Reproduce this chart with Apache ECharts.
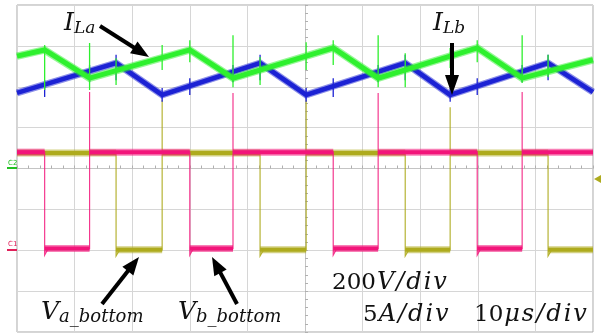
<!DOCTYPE html>
<html>
<head>
<meta charset="utf-8">
<script src="https://cdn.jsdelivr.net/npm/echarts@6/dist/echarts.min.js"></script>
<style>
html,body{margin:0;padding:0;background:#fff;}
#chart{width:605px;height:336px;}
</style>
</head>
<body>
<div id="chart"></div>
<script>
// ---- data (time in µs relative to trigger, amplitude in screen divisions) ----
// I_La (green) triangle corners
const iLaTime  = [-50, -45.2, -37.4, -20.0, -12.5, 4.9, 12.7, 29.9, 37.7, 50];
const iLaValue = [2.75, 2.90, 2.21, 2.90, 2.21, 2.95, 2.21, 2.95, 2.21, 2.66];
// I_Lb (blue) triangle corners
const iLbTime  = [-50, -32.8, -24.8, -7.8, 0.2, 17.4, 25.2, 42.2, 50];
const iLbValue = [1.85, 2.58, 1.80, 2.58, 1.80, 2.58, 1.80, 2.58, 1.87];
// V_b_bottom (pink) edges and levels
const vbFall = [-45.2, -20.0, 4.9, 29.9];
const vbRise = [-37.4, -12.5, 12.7, 37.7];
const vbRiseSpike = [1.87, 1.85, 1.85, 1.87];
const vbHigh = 0.40, vbLow = -1.96, vbUnder = -2.12;
// V_a_bottom (olive) edges and levels
const vaFall = [-32.8, -7.8, 17.4, 42.2];
const vaRise = [-24.8, 0.2, 25.2];
const vaRiseSpike = [1.67, 1.67, 1.50];
const vaHigh = 0.38, vaLow = -1.99, vaUnder = -2.14;
// switching spikes on the current traces
const spikeTime   = [-45.2,-37.4,-32.8,-24.8,-20.0,-12.5,-7.8,0.2,4.9,12.7,17.4,25.2,29.9,37.7,42.2];
const gSpikeTop   = [3.02,3.07,2.70,3.02,3.14,3.26,2.73,3.09,3.14,3.26,2.82,2.95,3.14,3.26,2.78];
const gSpikeBot   = [1.92,1.92,2.04,2.41,2.60,1.99,2.04,2.41,2.53,1.99,1.99,2.46,2.60,2.09,2.24];
const bSpikeTop   = [2.16,2.53,2.78,1.97,2.21,2.53,2.78,1.97,2.21,2.53,2.78,1.97,2.21,2.53,2.78];
const bSpikeBot   = [1.75,2.11,2.16,1.63,1.80,2.11,2.16,1.63,1.75,2.11,2.16,1.63,1.80,2.11,2.16];

const GREEN = '#2ef02e', BLUE = '#1c22d4', PINK = '#f2157a', OLIVE = '#aeab1e';

function zip(a, b) { return a.map((v, i) => [v, b[i]]); }

function squareWave(high, low, under, falls, rises, spikes) {
  const pts = [[-50, high]];
  const bands = [];
  let cur = -50;
  for (let i = 0; i < falls.length; i++) {
    const f = falls[i];
    pts.push([f, high], [f, under], [f + 0.6, low]);
    bands.push([cur, high, f, high]);
    if (i < rises.length) {
      const r = rises[i];
      pts.push([r, low], [r, spikes[i]], [r, high]);
      bands.push([f, low, r, low]);
      cur = r;
    } else {
      pts.push([50, low]);
      bands.push([f, low, 50, low]);
      cur = null;
    }
  }
  if (cur !== null) { pts.push([50, high]); bands.push([cur, high, 50, high]); }
  return { pts, bands };
}

function segSeries(segs, color, width, z, opacity) {
  return {
    type: 'custom', z: z, silent: true, clip: true,
    data: segs,
    encode: { x: [0, 2], y: [1, 3] },
    renderItem: function (params, api) {
      const p1 = api.coord([api.value(0), api.value(1)]);
      const p2 = api.coord([api.value(2), api.value(3)]);
      return { type: 'line', shape: { x1: p1[0], y1: p1[1], x2: p2[0], y2: p2[1] },
        style: { stroke: color, lineWidth: width, opacity: opacity == null ? 1 : opacity, lineCap: 'butt' } };
    }
  };
}

const vb = squareWave(vbHigh, vbLow, vbUnder, vbFall, vbRise, vbRiseSpike);
const va = squareWave(vaHigh, vaLow, vaUnder, vaFall, vaRise, vaRiseSpike);
const gSpikes = spikeTime.map((t, i) => [t, gSpikeTop[i], t, gSpikeBot[i]]);
const bSpikes = spikeTime.map((t, i) => [t, bSpikeTop[i], t, bSpikeBot[i]]);

function lineSeries(pts, color, width, z, opacity) {
  return { type: 'line', data: pts, symbol: 'none', z: z, silent: true,
    lineStyle: { color: color, width: width, opacity: opacity == null ? 1 : opacity, join: 'miter' } };
}

const series = [
  lineSeries(va.pts, OLIVE, 1.2, 2, 0.9),
  segSeries(va.bands, OLIVE, 7, 2, 0.55),
  segSeries(va.bands, OLIVE, 4, 2),
  lineSeries(vb.pts, PINK, 1.2, 3, 0.85),
  segSeries(vb.bands, PINK, 7, 3, 0.55),
  segSeries(vb.bands, PINK, 4, 3),
  lineSeries(zip(iLbTime, iLbValue), BLUE, 7, 4, 0.5),
  lineSeries(zip(iLbTime, iLbValue), BLUE, 4.5, 4),
  segSeries(bSpikes, BLUE, 1.3, 4),
  lineSeries(zip(iLaTime, iLaValue), GREEN, 7.5, 5, 0.5),
  lineSeries(zip(iLaTime, iLaValue), GREEN, 5, 5),
  segSeries(gSpikes, GREEN, 1.3, 5)
];

function arrow(x1, y1, x2, y2, w, hl, hw) {
  const dx = x2 - x1, dy = y2 - y1, L = Math.hypot(dx, dy);
  const ux = dx / L, uy = dy / L, nx = -uy, ny = ux;
  const bx = x2 - ux * hl, by = y2 - uy * hl;
  return [
    { type: 'line', z: 100, shape: { x1: x1, y1: y1, x2: bx + ux * 2, y2: by + uy * 2 }, style: { stroke: '#000', lineWidth: w } },
    { type: 'polygon', z: 100, shape: { points: [[x2, y2], [bx + nx * hw, by + ny * hw], [bx - nx * hw, by - ny * hw]] }, style: { fill: '#000' } }
  ];
}

function txt(x, y, text, rich, align) {
  return { type: 'text', z: 100, x: x, y: y,
    style: { text: text, rich: rich, align: align || 'left', verticalAlign: 'middle', fill: '#111' } };
}
const SERIF = 'DejaVu Serif';
const R = {
  big: { fontFamily: SERIF, fontStyle: 'italic', fontSize: 25, fill: '#111' },
  sub: { fontFamily: SERIF, fontStyle: 'italic', fontSize: 17, fill: '#111', padding: [12, 0, 0, 0] },
  subV: { fontFamily: SERIF, fontStyle: 'italic', fontSize: 18, fill: '#111', padding: [10, 0, 0, 0] },
  n: { fontFamily: SERIF, fontSize: 23, fill: '#111' },
  i: { fontFamily: SERIF, fontStyle: 'italic', fontSize: 24, fill: '#111', padding: [0, 1, 0, 1] }
};

function spread(s, style) { return s.split('').map(c => '{' + style + '|' + c + '}').join(''); }

const graphics = [].concat(
  arrow(100, 26, 149, 57, 4, 18, 7),
  arrow(452, 43, 452, 95, 4, 20, 7),
  arrow(102, 304, 139, 257, 4, 18, 7),
  arrow(237, 304, 212, 257, 4, 18, 7),
  [
    txt(64, 23, '{big|I}{sub|La}', R),
    txt(433, 23, '{big|I}{sub|Lb}', R),
    txt(41, 312, '{big|V}{subV|a_bottom}', R),
    txt(178, 312, '{big|V}{subV|b_bottom}', R),
    txt(332, 283, '{n|200}' + spread('V/div', 'i'), R),
    txt(363, 315, '{n|5}' + spread('A/div', 'i'), R),
    txt(474, 315, '{n|10}' + spread('μs/div', 'i'), R),
    { type: 'text', x: 8, y: 160, z: 100, style: { text: 'C2', fontSize: 7, fill: '#22c022', fontFamily: 'DejaVu Sans' } },
    { type: 'rect', x: 7, y: 167, z: 100, shape: { width: 10, height: 2 }, style: { fill: '#22c022' } },
    { type: 'text', x: 8, y: 241, z: 100, style: { text: 'C1', fontSize: 7, fill: '#e0205a', fontFamily: 'DejaVu Sans' } },
    { type: 'rect', x: 7, y: 249, z: 100, shape: { width: 10, height: 2 }, style: { fill: '#e0205a' } },
    { type: 'polygon', z: 100, shape: { points: [[594, 179], [601, 175], [601, 183]] }, style: { fill: OLIVE } }
  ]
);

const chart = echarts.init(document.getElementById('chart'), null, { renderer: 'canvas' });
chart.setOption({
  animation: false,
  backgroundColor: '#ffffff',
  grid: { left: 17, right: 12, top: 5, bottom: 4, show: true, borderColor: '#a8a8a8', borderWidth: 1 },
  xAxis: {
    type: 'value', min: -50, max: 50, interval: 10,
    axisLine: { show: true, onZero: true, lineStyle: { color: '#c4c4c4', width: 1 } },
    axisTick: { show: true, inside: true, length: 3, lineStyle: { color: '#b0b0b0' } },
    minorTick: { show: true, splitNumber: 5, length: 3, lineStyle: { color: '#b0b0b0' } },
    axisLabel: { show: false },
    splitLine: { show: true, lineStyle: { color: '#d6d6d6', width: 1 } }
  },
  yAxis: {
    type: 'value', min: -4, max: 4, interval: 1,
    axisLine: { show: true, onZero: true, lineStyle: { color: '#c4c4c4', width: 1 } },
    axisTick: { show: true, inside: true, length: 3, lineStyle: { color: '#b0b0b0' } },
    minorTick: { show: true, splitNumber: 5, length: 3, lineStyle: { color: '#b0b0b0' } },
    axisLabel: { show: false },
    splitLine: { show: true, lineStyle: { color: '#d6d6d6', width: 1 } }
  },
  series: series,
  graphic: graphics
});
</script>
</body>
</html>
